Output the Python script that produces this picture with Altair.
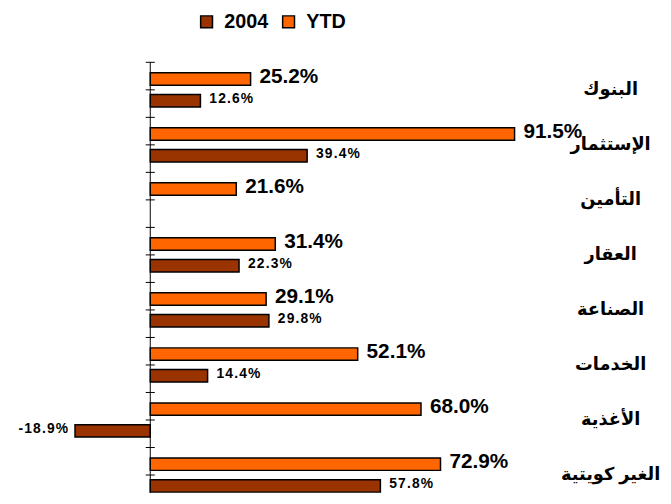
import altair as alt
import pandas as pd

# ---- data ----
categories = ["البنوك", "الإستثمار", "التأمين", "العقار", "الصناعة", "الخدمات", "الأغذية", "الغير كويتية"]
ytd_values = [25.2, 91.5, 21.6, 31.4, 29.1, 52.1, 68.0, 72.9]
y2004_values = [12.6, 39.4, None, 22.3, 29.8, 14.4, -18.9, 57.8]
series_names = ["2004", "YTD"]
series_colors = ["#993300", "#FF6600"]

# ---- layout constants (pixels) ----
W, H = 663, 436
PX_PER_UNIT_X = 4.03
ZERO_PX = 144
PX_PER_CAT = 55.7
XMIN = -ZERO_PX / PX_PER_UNIT_X
XMAX = (W - ZERO_PX) / PX_PER_UNIT_X
YMIN = -0.5
YMAX = YMIN + H / PX_PER_CAT
OFF = 11 / PX_PER_CAT
HALF = 6.3 / PX_PER_CAT
TICK = 4.6 / PX_PER_UNIT_X
LABEL_X = (610 - ZERO_PX) / PX_PER_UNIT_X
FONT = "Liberation Sans, Arial, DejaVu Sans, sans-serif"
HAIR = "\u200a"

rows = []
for i, c in enumerate(categories):
    rows.append(dict(cat=c, idx=i, series="YTD", value=ytd_values[i], pos=i - OFF))
    if y2004_values[i] is not None:
        rows.append(dict(cat=c, idx=i, series="2004", value=y2004_values[i], pos=i + OFF))
df = pd.DataFrame(rows)
df["y1"] = df["pos"] - HALF
df["y2"] = df["pos"] + HALF
df["zero"] = 0.0
df["label"] = [
    f"{v:.1f}%" if s == "YTD" else HAIR.join(f"{v:.1f}%")
    for v, s in zip(df["value"], df["series"])
]

cat_df = pd.DataFrame({"cat": categories, "idx": list(range(len(categories)))})
tick_pos = [k / 2 for k in range(-1, 2 * len(categories)) if k / 2 <= YMAX]
tick_df = pd.DataFrame({"t": tick_pos})
axis_df = pd.DataFrame({"a": [YMIN], "b": [YMAX]})

xs = alt.Scale(domain=[XMIN, XMAX], nice=False, zero=False)
ys = alt.Scale(domain=[YMIN, YMAX], nice=False, zero=False, reverse=True)

bars = alt.Chart(df).mark_rect(stroke="black", strokeWidth=1.5).encode(
    x=alt.X("value:Q", scale=xs, axis=None),
    x2="zero:Q",
    y=alt.Y("y1:Q", scale=ys, axis=None),
    y2="y2:Q",
    fill=alt.Fill(
        "series:N",
        scale=alt.Scale(domain=series_names, range=series_colors),
        legend=alt.Legend(
            title=None, orient="none", direction="horizontal",
            legendX=191, legendY=-51, padding=0,
            symbolType="square", symbolSize=144,
            symbolStrokeColor="black", symbolStrokeWidth=1.5,
            labelFont=FONT, labelFontSize=20, labelFontWeight="bold",
            labelColor="black", labelOffset=8, columnPadding=10,
        ),
    ),
)

axis_line = alt.Chart(axis_df).mark_rule(color="black", strokeWidth=1).encode(
    x=alt.datum(0), y=alt.Y("a:Q", scale=ys), y2="b:Q"
)

ticks = alt.Chart(tick_df).mark_rule(color="black", strokeWidth=1).encode(
    x=alt.datum(-TICK), x2=alt.datum(TICK), y=alt.Y("t:Q", scale=ys)
)

ytd_labels = alt.Chart(df).transform_filter("datum.series == 'YTD'").mark_text(
    align="left", baseline="middle", dx=9, dy=-2, font=FONT, fontSize=21,
    fontWeight="bold", color="black"
).encode(x=alt.X("value:Q", scale=xs), y=alt.Y("pos:Q", scale=ys), text="label:N")

pos_labels = alt.Chart(df).transform_filter("datum.series == '2004' && datum.value >= 0").mark_text(
    align="left", baseline="middle", dx=9, dy=-2, font=FONT, fontSize=14,
    fontWeight="bold", color="black"
).encode(x=alt.X("value:Q", scale=xs), y=alt.Y("pos:Q", scale=ys), text="label:N")

neg_labels = alt.Chart(df).transform_filter("datum.series == '2004' && datum.value < 0").mark_text(
    align="right", baseline="middle", dx=-7, dy=-2, font=FONT, fontSize=14,
    fontWeight="bold", color="black"
).encode(x=alt.X("value:Q", scale=xs), y=alt.Y("pos:Q", scale=ys), text="label:N")

cat_labels = alt.Chart(cat_df).mark_text(
    align="center", baseline="middle", font=FONT, fontSize=18, fontWeight="bold", color="black"
).encode(x=alt.datum(LABEL_X), y=alt.Y("idx:Q", scale=ys), text="cat:N")

chart = alt.layer(
    bars, axis_line, ticks, ytd_labels, pos_labels, neg_labels, cat_labels
).properties(
    width=W, height=H, autosize="none",
    padding={"left": 0, "top": 52, "right": 0, "bottom": 0},
    background="white",
).configure_view(strokeWidth=0)

chart.save("out.html", embed_options={"renderer": "svg", "actions": False})
